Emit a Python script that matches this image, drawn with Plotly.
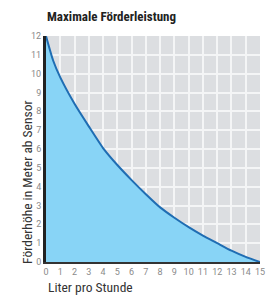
import plotly.graph_objects as go

liter = [0, 0.5, 1, 2, 3, 4, 5, 6, 7, 8, 9, 10, 11, 12, 13, 14, 15]
hoehe = [12, 10.7, 9.8, 8.4, 7.2, 6.05, 5.15, 4.35, 3.6, 2.9, 2.35, 1.85, 1.4, 1.0, 0.6, 0.27, 0]
x_ticks = list(range(0, 16))
y_ticks = list(range(0, 13))

fig = go.Figure()
fig.add_trace(go.Scatter(
    x=liter, y=hoehe, mode="lines", line=dict(color="#1f6db3", width=2, shape="spline", smoothing=0.6),
    fill="tozeroy", fillcolor="#88d4f6", hoverinfo="skip", showlegend=False))

tickfont = dict(family="Roboto, Liberation Sans, sans-serif", size=9, color="#8a8a8a")
labfont = dict(family="Liberation Sans Narrow, Roboto Condensed, Roboto, sans-serif", size=13.5, color="#333")
W, H = 266, 288
fig.update_layout(
    width=W, height=H,
    margin=dict(l=38, r=14, t=28, b=34),
    paper_bgcolor="white", plot_bgcolor="#dcdee1",
    title=dict(text="<b>Maximale Förderleistung</b>", x=39/W, xref="container", xanchor="left",
               y=1 - 8/H, yanchor="middle",
               font=dict(family="Liberation Sans Narrow, Roboto Condensed, Roboto, sans-serif", size=13, color="#222")),
    xaxis=dict(range=[0, 15], tickvals=x_ticks, ticktext=[str(v) for v in x_ticks],
               showgrid=True, gridcolor="#f4f5f6", gridwidth=2, zeroline=False, automargin=False,
               showline=True, linecolor="#333", linewidth=2, ticks="", ticklen=0,
               ticklabeloverflow="allow", tickfont=tickfont),
    yaxis=dict(range=[0, 12], tickvals=y_ticks, ticktext=[str(v) for v in y_ticks],
               showgrid=True, gridcolor="#f4f5f6", gridwidth=2, zeroline=False, automargin=False,
               showline=True, linecolor="#222", linewidth=3, ticks="",
               ticklabeloverflow="allow", tickfont=tickfont),
    annotations=[
        dict(text="Liter pro Stunde", xref="paper", yref="paper", x=0, y=-25/226,
             xanchor="left", yanchor="middle", showarrow=False, font=labfont),
        dict(text="Förderhöhe in Meter ab Sensor", xref="paper", yref="paper", x=-19/214, y=0.35,
             xanchor="center", yanchor="middle", textangle=-90, showarrow=False, font=labfont),
    ],
)
fig.write_html("out.html")
